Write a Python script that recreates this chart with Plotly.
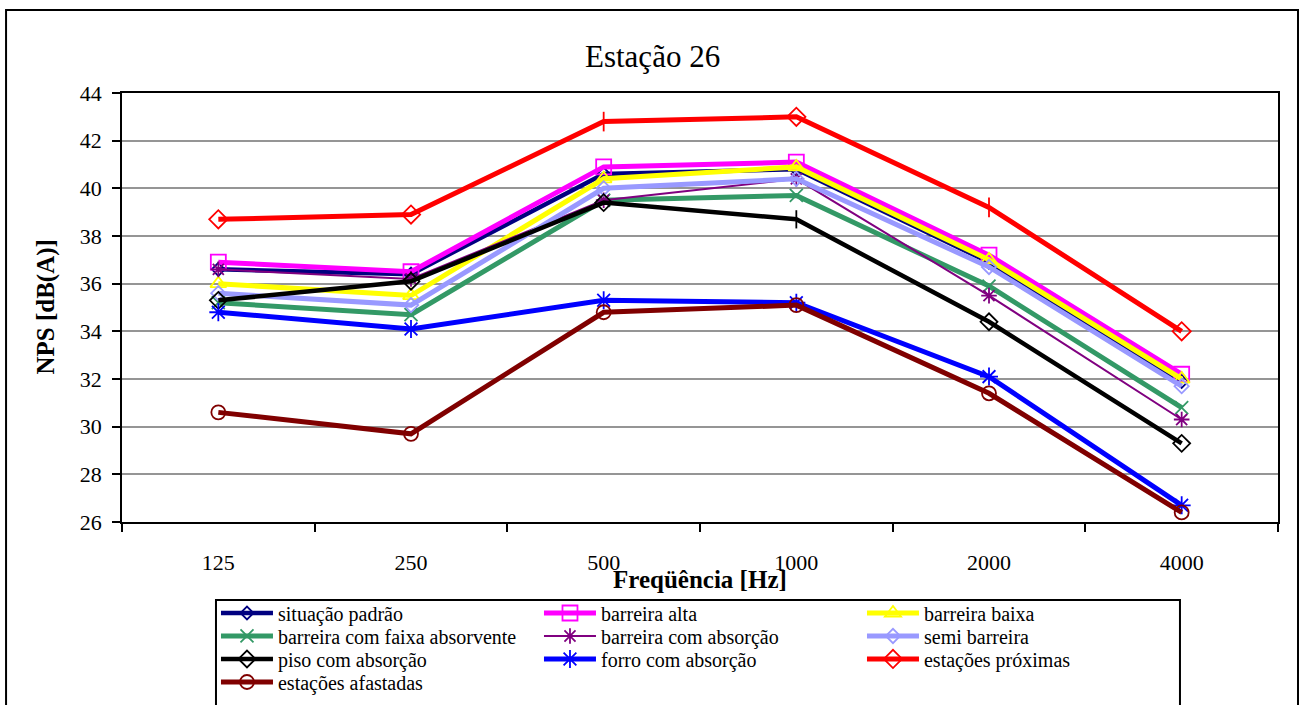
import plotly.graph_objects as go

# Octave-band centre frequencies (Hz)
frequencias = ["125", "250", "500", "1000", "2000", "4000"]

# Sound pressure level per scenario, dB(A)
situacao_padrao = [36.6, 36.4, 40.6, 40.8, 36.9, 31.9]
barreira_alta = [36.9, 36.5, 40.9, 41.1, 37.2, 32.2]
barreira_baixa = [36.0, 35.5, 40.4, 40.9, 37.0, 32.0]
barreira_faixa_absorvente = [35.2, 34.7, 39.5, 39.7, 35.9, 30.8]
barreira_com_absorcao = [36.6, 36.2, 39.5, 40.4, 35.5, 30.3]
semi_barreira = [35.6, 35.1, 40.0, 40.4, 36.7, 31.7]
piso_com_absorcao = [35.3, 36.1, 39.4, 38.7, 34.4, 29.3]
forro_com_absorcao = [34.8, 34.1, 35.3, 35.2, 32.1, 26.7]
estacoes_proximas = [38.7, 38.9, 42.8, 43.0, 39.2, 34.0]
estacoes_afastadas = [30.6, 29.7, 34.8, 35.1, 31.4, 26.4]

# name, values, colour, line width, marker symbol, marker size, legend row
series = [
    ("situação padrão", situacao_padrao, "#000080", 4.5, "diamond-open", 10, "legend"),
    ("barreira alta", barreira_alta, "#FF00FF", 5, "square-open", 15, "legend"),
    ("barreira baixa", barreira_baixa, "#FFFF00", 5, "triangle-up-open", 14, "legend"),
    ("barreira com faixa absorvente", barreira_faixa_absorvente, "#339966", 5, "x-thin-open", 13, "legend2"),
    ("barreira com absorção", barreira_com_absorcao, "#800080", 2, "asterisk-open", 13, "legend2"),
    ("semi barreira", semi_barreira, "#9999FF", 5, "diamond-open", 11, "legend2"),
    ("piso com absorção", piso_com_absorcao, "#000000", 4.5,
     ["diamond-open", "diamond-open", "diamond-open", "line-ns-open", "diamond-open", "diamond-open"], 13, "legend3"),
    ("forro com absorção", forro_com_absorcao, "#0000FF", 5, "asterisk-open", 15, "legend3"),
    ("estações próximas", estacoes_proximas, "#FF0000", 5,
     ["diamond-open", "diamond-open", "line-ns-open", "diamond-open", "line-ns-open", "diamond-open"], 14, "legend3"),
    ("estações afastadas", estacoes_afastadas, "#800000", 5, "circle-open", 14, "legend4"),
]

FONT = "Liberation Serif"

fig = go.Figure()
for nome, valores, cor, largura, simbolo, tamanho, leg in series:
    fig.add_trace(go.Scatter(
        x=frequencias, y=valores, name=nome, mode="lines+markers",
        line=dict(color=cor, width=largura),
        marker=dict(symbol=simbolo, size=tamanho, color=cor,
                    line=dict(color=cor, width=1.8)),
        legend=leg,
    ))


def legend_row(y):
    return dict(
        orientation="h", x=0.0813, y=y, xanchor="left", yanchor="middle",
        borderwidth=0, bgcolor="rgba(0,0,0,0)",
        font=dict(family=FONT, size=20, color="black"),
        entrywidth=256, entrywidthmode="pixels", itemwidth=52,
    )


fig.update_layout(
    width=1306, height=705,
    margin=dict(l=122, r=28, t=93, b=183, autoexpand=False),
    paper_bgcolor="white", plot_bgcolor="white",
    font=dict(family=FONT, color="black", size=22),
    showlegend=True,
    legend=legend_row(-0.2121),
    legend2=legend_row(-0.2657),
    legend3=legend_row(-0.3193),
    legend4=legend_row(-0.3730),
    xaxis=dict(
        type="category", range=[-0.5, 5.5], tickson="boundaries",
        ticks="outside", ticklen=8, tickwidth=1.5, tickcolor="black",
        showline=True, linecolor="black", linewidth=1.5, mirror=True,
        showgrid=False, ticklabelstandoff=20,
        tickfont=dict(family=FONT, size=22, color="black"),
    ),
    yaxis=dict(
        range=[26, 44], dtick=2, ticks="outside", ticklen=8, tickwidth=1.5,
        tickcolor="black", showline=True, linecolor="black", linewidth=1.5,
        mirror=True, showgrid=True, gridcolor="#959595", gridwidth=2,
        zeroline=False, ticklabelstandoff=6,
        tickfont=dict(family=FONT, size=22, color="black"),
    ),
)

# Chart title and axis titles
fig.add_annotation(text="Estação 26", xref="paper", yref="paper",
                   x=0.4585, y=1.084, xanchor="center", yanchor="middle",
                   showarrow=False, font=dict(family=FONT, size=31, color="black"))
fig.add_annotation(text="<b>Freqüência [Hz]</b>", xref="paper", yref="paper",
                   x=0.5, y=-0.135, xanchor="center", yanchor="middle",
                   showarrow=False, font=dict(family=FONT, size=25, color="black"))
fig.add_annotation(text="<b>NPS [dB(A)]</b>", xref="paper", yref="paper",
                   x=-0.0666, y=0.5, xanchor="center", yanchor="middle",
                   textangle=-90, showarrow=False,
                   font=dict(family=FONT, size=25, color="black"))

# Outer chart frame
fig.add_shape(type="rect", xref="paper", yref="paper",
              x0=-0.1003, x1=1.0173, y0=-0.44, y1=1.1935,
              line=dict(color="black", width=2), layer="below")

# Legend frame
fig.add_shape(type="rect", xref="paper", yref="paper",
              x0=0.0813, x1=0.9152, y0=-0.44, y1=-0.1818,
              line=dict(color="black", width=2), layer="below")

fig.write_html("out.html")
